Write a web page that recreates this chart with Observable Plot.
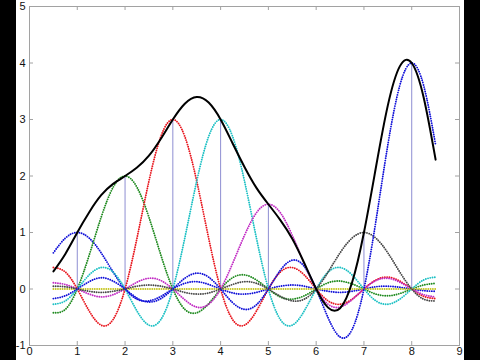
<!DOCTYPE html>
<html>
<head>
<meta charset="utf-8">
<script src="https://cdn.jsdelivr.net/npm/d3@7"></script>
<script src="https://cdn.jsdelivr.net/npm/@observablehq/plot@0.6"></script>
<style>
  html, body { margin: 0; padding: 0; background: #fff; }
  #chart svg {
    display: block;
    background: linear-gradient(to right, #000 0, #000 16px, #fff 16px, #fff 464px, #000 464px, #000 100%) !important;
  }
</style>
</head>
<body>
<div id="chart"></div>
<script>
// Sample points (stems)
const sampleX = [1, 2, 3, 4, 5, 6, 7, 8];
const sampleY = [1, 2, 3, 3, 1.5, 0, 1, 4];

// Horizontal positions at which curve values were read
const xGrid = [0.5, 0.75, 1, 1.25, 1.5, 1.75, 2, 2.25, 2.5, 2.75, 3, 3.25, 3.5, 3.75, 4, 4.25,
  4.5, 4.75, 5, 5.25, 5.5, 5.75, 6, 6.25, 6.5, 6.75, 7, 7.25, 7.5, 7.75, 8, 8.25, 8.5];

// Dotted component curves (one per sample)
const sinc1 = [0.64, 0.9, 1, 0.9, 0.64, 0.3, 0, -0.18, -0.21, -0.13, 0, 0.1, 0.13, 0.08, 0, -0.07, -0.09, -0.06, 0, 0.05, 0.07, 0.05, 0, -0.04, -0.06, -0.04, 0, 0.04, 0.05, 0.03, 0, -0.03, -0.04];
const sinc2 = [-0.42, -0.36, 0, 0.6, 1.27, 1.8, 2, 1.8, 1.27, 0.6, 0, -0.36, -0.42, -0.26, 0, 0.2, 0.25, 0.16, 0, -0.14, -0.18, -0.12, 0, 0.11, 0.14, 0.09, 0, -0.09, -0.12, -0.08, 0, 0.07, 0.1];
const sinc3 = [0.38, 0.3, 0, -0.39, -0.64, -0.54, 0, 0.9, 1.91, 2.7, 3, 2.7, 1.91, 0.9, 0, -0.54, -0.64, -0.39, 0, 0.3, 0.38, 0.25, 0, -0.21, -0.27, -0.18, 0, 0.16, 0.21, 0.14, 0, -0.13, -0.17];
const sinc4 = [-0.27, -0.21, 0, 0.25, 0.38, 0.3, 0, -0.39, -0.64, -0.54, 0, 0.9, 1.91, 2.7, 3, 2.7, 1.91, 0.9, 0, -0.54, -0.64, -0.39, 0, 0.3, 0.38, 0.25, 0, -0.21, -0.27, -0.18, 0, 0.16, 0.21];
const sinc5 = [0.11, 0.08, 0, -0.09, -0.14, -0.1, 0, 0.12, 0.19, 0.15, 0, -0.19, -0.32, -0.27, 0, 0.45, 0.95, 1.35, 1.5, 1.35, 0.95, 0.45, 0, -0.27, -0.32, -0.19, 0, 0.15, 0.19, 0.12, 0, -0.1, -0.14];
const sinc6 = [0, 0, 0, 0, 0, 0, 0, 0, 0, 0, 0, 0, 0, 0, 0, 0, 0, 0, 0, 0, 0, 0, 0, 0, 0, 0, 0, 0, 0, 0, 0, 0, 0];
const sinc7 = [0.05, 0.04, 0, -0.04, -0.06, -0.04, 0, 0.05, 0.07, 0.05, 0, -0.06, -0.09, -0.07, 0, 0.08, 0.13, 0.1, 0, -0.13, -0.21, -0.18, 0, 0.3, 0.64, 0.9, 1, 0.9, 0.64, 0.3, 0, -0.18, -0.21];
const sinc8 = [-0.17, -0.12, 0, 0.13, 0.2, 0.14, 0, -0.16, -0.23, -0.17, 0, 0.19, 0.28, 0.21, 0, -0.24, -0.36, -0.28, 0, 0.33, 0.51, 0.4, 0, -0.51, -0.85, -0.72, 0, 1.2, 2.55, 3.6, 4, 3.6, 2.55];

// Solid black reconstructed curve
const sumCurve = [0.31, 0.62, 1, 1.36, 1.66, 1.86, 2, 2.15, 2.36, 2.66, 3, 3.28, 3.4, 3.3, 3, 2.58, 2.16, 1.79, 1.5, 1.22, 0.89, 0.46, 0, -0.33, -0.34, 0.11, 1, 2.15, 3.25, 3.94, 4, 3.39, 2.29];

// Tick labels
const xTicks = [0, 1, 2, 3, 4, 5, 6, 7, 8, 9];
const yTicks = [-1, 0, 1, 2, 3, 4, 5];

// Styles
const palette = ["#1010d8", "#1f8a1f", "#e8161e", "#1cc0c4", "#c22cc4", "#c4c41c", "#474747", "#1010d8"];

const components = [sinc1, sinc2, sinc3, sinc4, sinc5, sinc6, sinc7, sinc8];
const stems = sampleX.map((x, i) => ({x, y: sampleY[i]}));
const toRows = (vals) => xGrid.map((x, i) => ({x, y: vals[i]}));

const frameColor = "#a2a2a2";
const fmt = d => String(d);

const chart = Plot.plot({
  width: 480,
  height: 360,
  marginLeft: 29,
  marginRight: 21,
  marginTop: 6,
  marginBottom: 15,
  style: {fontFamily: "'Liberation Sans', Arial, sans-serif", fontSize: "11px", color: "#111"},
  x: {domain: [0, 9], label: null},
  y: {domain: [-1, 5], label: null},
  marks: [
    Plot.ruleX(stems, {x: "x", y1: 0, y2: "y", stroke: "#8e8ed2", strokeWidth: 1}),
    ...components.map((vals, j) => Plot.line(toRows(vals), {
      x: "x", y: "y", stroke: palette[j], strokeWidth: 1.9,
      strokeDasharray: "0,2.3", strokeLinecap: "round", curve: "natural"
    })),
    Plot.line(toRows(sumCurve), {x: "x", y: "y", stroke: "#000", strokeWidth: 2, curve: "natural"}),
    Plot.frame({stroke: frameColor}),
    Plot.tickX(xTicks, {x: d => d, insetTop: 335, stroke: frameColor}),
    Plot.tickX(xTicks, {x: d => d, insetBottom: 335, stroke: frameColor}),
    Plot.tickY(yTicks, {y: d => d, insetRight: 426, stroke: frameColor}),
    Plot.tickY(yTicks, {y: d => d, insetLeft: 426, stroke: frameColor}),
    Plot.axisX(xTicks, {anchor: "bottom", tickSize: 0, tickPadding: 2, tickFormat: fmt, label: null, fill: "#111"}),
    Plot.axisY(yTicks, {anchor: "left", tickSize: 0, tickPadding: 4, tickFormat: fmt, label: null, fill: "#111"})
  ]
});

document.getElementById("chart").appendChild(chart);
</script>
</body>
</html>
